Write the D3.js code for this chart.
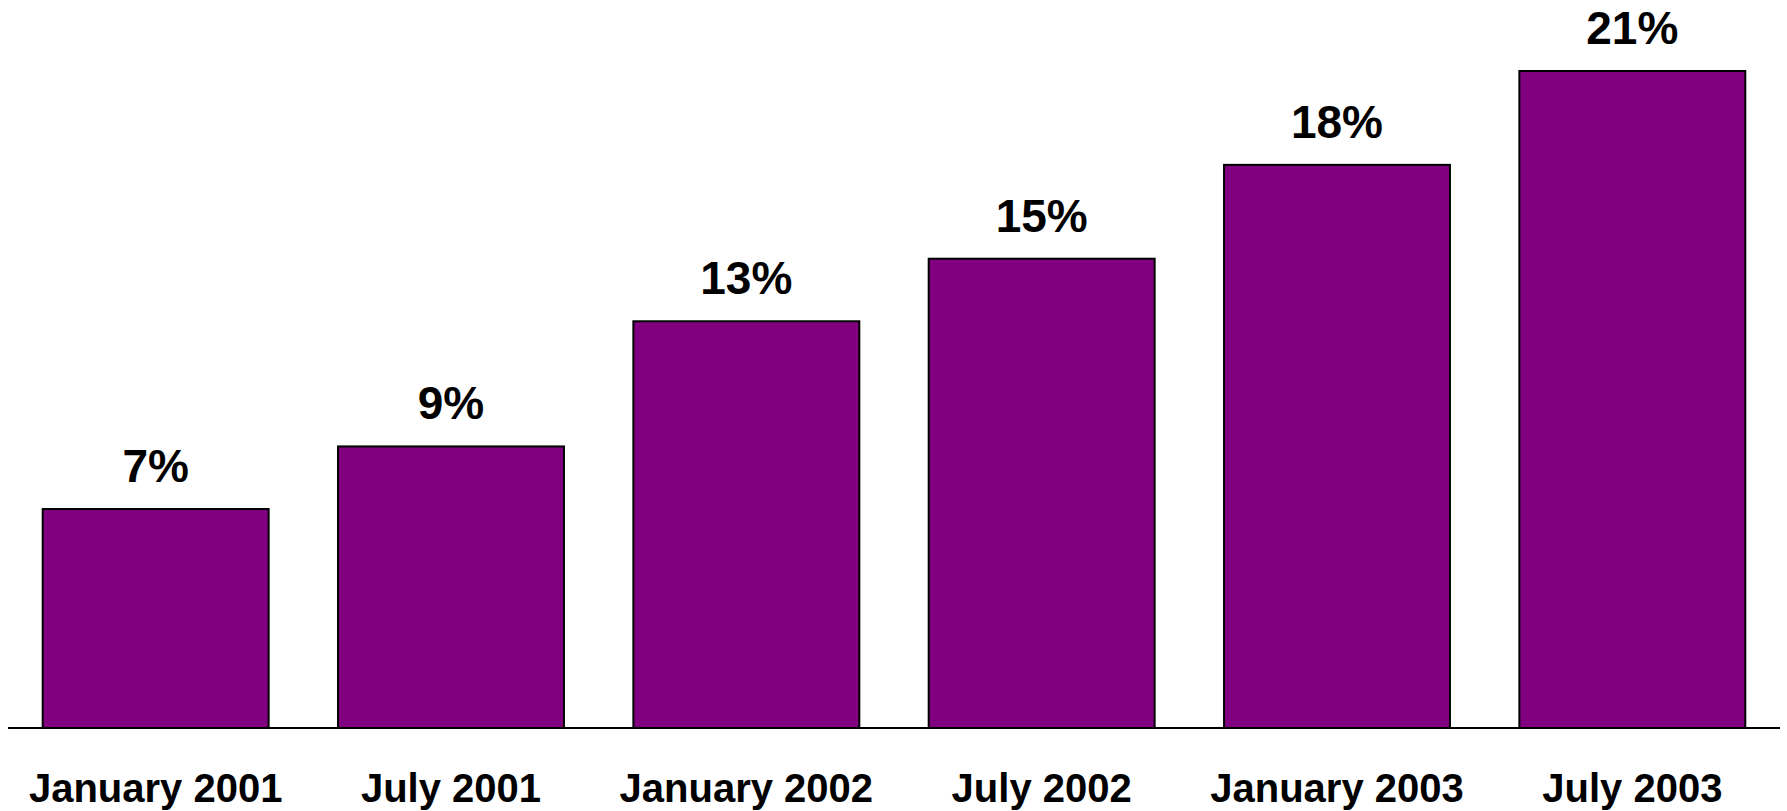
<!DOCTYPE html>
<html>
<head>
<meta charset="utf-8">
<script src="https://cdn.jsdelivr.net/npm/d3@7"></script>
<style>
html,body{margin:0;padding:0;background:#fff;}
svg{display:block;}
</style>
</head>
<body>
<svg id="chart" width="1787" height="811"></svg>
<script>
const categories = ["January 2001","July 2001","January 2002","July 2002","January 2003","July 2003"];
const values = [7, 9, 13, 15, 18, 21];
const valueLabels = ["7%","9%","13%","15%","18%","21%"];

const svg = d3.select("#chart");
const baseY = 728;
const x = d3.scaleBand().domain(categories).range([8, 1780]).paddingInner(0.235).paddingOuter(0.1175);
const y = d3.scaleLinear().domain([0, 21]).range([baseY, 71]);

svg.selectAll("rect.bar").data(values).enter().append("rect")
  .attr("class","bar")
  .attr("x",(d,i)=>x(categories[i]))
  .attr("width",x.bandwidth())
  .attr("y",d=>y(d))
  .attr("height",d=>baseY-y(d))
  .attr("fill","#800080")
  .attr("stroke","#000")
  .attr("stroke-width",2);

svg.append("line").attr("x1",8).attr("x2",1780).attr("y1",baseY).attr("y2",baseY)
  .attr("stroke","#000").attr("stroke-width",2);

svg.selectAll("text.val").data(values).enter().append("text")
  .attr("class","val")
  .attr("x",(d,i)=>x(categories[i])+x.bandwidth()/2)
  .attr("y",d=>y(d)-27)
  .attr("text-anchor","middle")
  .attr("font-family","'Liberation Sans', Arial, sans-serif")
  .attr("font-weight","bold")
  .attr("font-size",46)
  .attr("fill","#000")
  .text((d,i)=>valueLabels[i]);

svg.selectAll("text.cat").data(categories).enter().append("text")
  .attr("class","cat")
  .attr("x",d=>x(d)+x.bandwidth()/2)
  .attr("y",802)
  .attr("text-anchor","middle")
  .attr("font-family","'Liberation Sans', Arial, sans-serif")
  .attr("font-weight","bold")
  .attr("font-size",40)
  .attr("fill","#000")
  .text(d=>d);
</script>
</body>
</html>
